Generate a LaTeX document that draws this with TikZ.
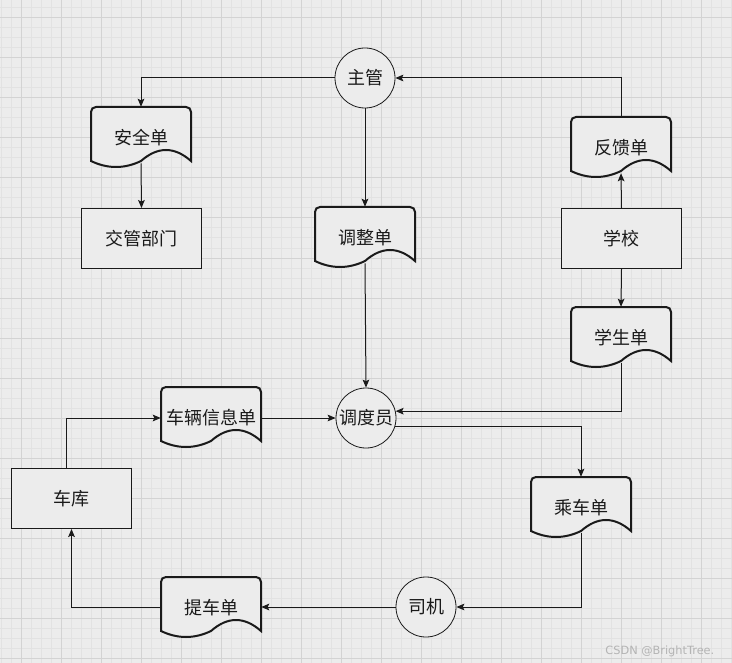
\documentclass[tikz,border=0pt]{standalone}
\usepackage{fontspec}
\newfontfamily\cjk{Noto Sans CJK SC}
\usetikzlibrary{arrows.meta}
\definecolor{bgc}{HTML}{ECECEC}
\definecolor{gridminor}{HTML}{E2E2E2}
\definecolor{gridmajor}{HTML}{D3D3D3}
\definecolor{ink}{HTML}{1A1A1A}
\definecolor{wm}{HTML}{B4B4B4}
\tikzset{
  every node/.style={font=\cjk\fontsize{13.5pt}{16pt}\selectfont, text=ink},
  boxnode/.style={draw=ink, fill=bgc, line width=0.75pt, minimum width=90pt, minimum height=45pt, inner sep=0pt},
  circnode/.style={circle, draw=ink, fill=bgc, line width=0.6pt, minimum size=45pt, inner sep=0pt},
  docnode/.style={minimum width=75pt, minimum height=42pt, inner sep=0pt},
  doctext/.style={inner sep=0pt},
  docline/.style={draw=ink, fill=bgc, line width=1.5pt},
  conn/.style={draw=ink, line width=0.75pt, -{Stealth[length=6pt,width=5pt,inset=1.2pt]}},
}
\newcommand\docshape[4]{%
  \path[docline] (#2,#3+54) -- (#2,#3+5) .. controls (#2,#3+2) and (#2+2,#3) .. (#2+5,#3)
    -- (#2+95,#3) .. controls (#2+98,#3) and (#2+100,#3+2) .. (#2+100,#3+5)
    -- (#2+100,#3+54) .. controls (#2+83.33,#3+39.33) and (#2+66.67,#3+39.33) .. (#2+50,#3+54)
    .. controls (#2+33.33,#3+62) and (#2+16.67,#3+62) .. cycle;
  \node[docnode] (#1) at (#2+50,#3+28) {};
  \node[doctext] (#1-t) at (#2+50,#3+31) {#4};
}
\begin{document}
\begin{tikzpicture}[x=0.75pt,y=-0.75pt]
\useasboundingbox (0,0) rectangle (732,663);
\fill[bgc] (0,0) rectangle (732,663);
\foreach \x in {1,11,...,731} \draw[gridminor,line width=0.75pt] (\x,0) -- (\x,663);
\foreach \y in {8,18,...,658} \draw[gridminor,line width=0.75pt] (0,\y) -- (732,\y);
\foreach \x in {21,61,...,701} \draw[gridmajor,line width=0.75pt] (\x,0) -- (\x,663);
\foreach \y in {18,58,...,658} \draw[gridmajor,line width=0.75pt] (0,\y) -- (732,\y);

% circles
\node[circnode] (zg) at (365,78) {主管};
\node[circnode] (ddy) at (366,418) {调度员};
\node[circnode] (sj) at (426,607) {司机};

% rectangles
\node[boxnode] (jg) at (141.5,238.5) {交管部门};
\node[boxnode] (xx) at (621.5,238.5) {学校};
\node[boxnode] (ck) at (71.5,498.5) {车库};

% documents
\docshape{aqd}{91}{107}{安全单}
\docshape{tzd}{315}{207}{调整单}
\docshape{fkd}{571}{117}{反馈单}
\docshape{xsd}{571}{307}{学生单}
\docshape{clx}{161}{387}{车辆信息单}
\docshape{ccd}{531}{477}{乘车单}
\docshape{tcd}{161}{577}{提车单}

% connectors
\draw[conn] (zg.west) -| (aqd.north);
\draw[conn] (aqd.south) -- (jg.north);
\draw[conn] (zg.south) -- (tzd.north);
\draw[conn] (fkd.north) |- (zg.east);
\draw[conn] (xx.north) -- (fkd.south);
\draw[conn] (xx.south) -- (xsd.north);
\draw[conn] (xsd.south) |- (ddy.13.5);
\draw[conn] (ddy.-17.5) -| (ccd.north);
\draw[conn] (tzd.south) -- (ddy.north);
\draw[conn] (clx.east |- ddy.west) -- (ddy.west);
\draw[conn] ([xshift=-3.75pt]ck.north) |- (clx.west |- ddy.west);
\draw[conn] (ccd.south) |- (sj.east);
\draw[conn] (sj.west) -- (sj.west -| tcd.east);
\draw[conn] (tcd.west |- sj.west) -| (ck.south);

\node[font=\fontspec{DejaVu Sans}\fontsize{8.5pt}{10pt}\selectfont, text=wm, anchor=east] (wmk) at (719,651) {CSDN @BrightTree.};
\end{tikzpicture}
\end{document}
